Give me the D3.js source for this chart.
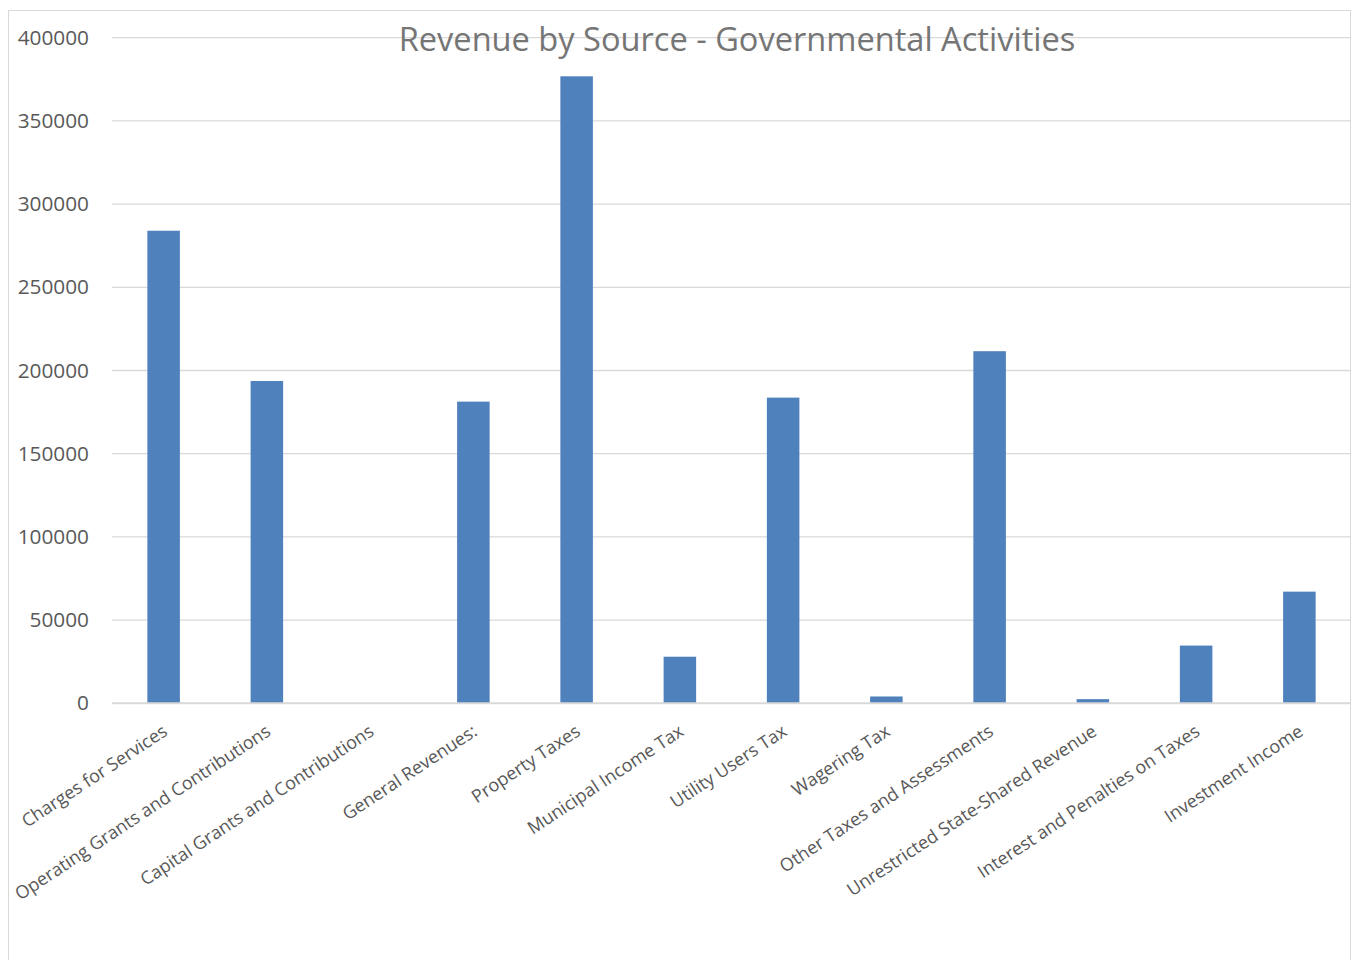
<!DOCTYPE html>
<html>
<head>
<meta charset="utf-8">
<script src="https://cdn.jsdelivr.net/npm/d3@7"></script>
<style>
  html, body { margin: 0; padding: 0; background: #fff; }
  svg { display: block; font-family: "Open Sans", "Noto Sans", sans-serif; }
</style>
</head>
<body>
<div id="chart"></div>
<script>
// Chart data
const categories = [
  "Charges for Services",
  "Operating Grants and Contributions",
  "Capital Grants and Contributions",
  "General Revenues:",
  "Property Taxes",
  "Municipal Income Tax",
  "Utility Users Tax",
  "Wagering Tax",
  "Other Taxes and Assessments",
  "Unrestricted State-Shared Revenue",
  "Interest and Penalties on Taxes",
  "Investment Income"
];
const revenue = [284000, 193700, 0, 181300, 376800, 28000, 183700, 4100, 211600, 2500, 34700, 67100];
const yTicks = [0, 50000, 100000, 150000, 200000, 250000, 300000, 350000, 400000];
const chartTitle = "Revenue by Source - Governmental Activities";

const width = 1354, height = 960;
const margin = { top: 37.7, right: 3, bottom: 256.7, left: 112 };

const svg = d3.select("#chart").append("svg")
  .attr("width", width)
  .attr("height", height);

// Chart area border
svg.append("rect")
  .attr("x", 8.5).attr("y", 10.5)
  .attr("width", 1342).attr("height", 1000)
  .attr("fill", "#fff")
  .attr("stroke", "#d9d9d9");

const x = d3.scaleBand()
  .domain(categories)
  .range([margin.left, width - margin.right])
  .paddingInner(0.685)
  .paddingOuter(0.3425);

const y = d3.scaleLinear()
  .domain([0, 400000])
  .range([height - margin.bottom, margin.top]);

// Gridlines
svg.append("g")
  .selectAll("line")
  .data(yTicks.filter(d => d > 0))
  .join("line")
  .attr("x1", margin.left)
  .attr("x2", width - margin.right)
  .attr("y1", d => y(d))
  .attr("y2", d => y(d))
  .attr("stroke", "#d9d9d9")
  .attr("stroke-width", 1.3);

// Title (gridline shows through it)
svg.append("text")
  .attr("x", 737)
  .attr("y", 51)
  .attr("text-anchor", "middle")
  .attr("fill", "#757575")
  .style("font-size", "32.6px")
  .text(chartTitle);

// Bars
svg.append("g")
  .selectAll("rect")
  .data(revenue)
  .join("rect")
  .attr("x", (d, i) => x(categories[i]))
  .attr("y", d => y(d))
  .attr("width", x.bandwidth())
  .attr("height", d => y(0) - y(d))
  .attr("fill", "#4f81bd");

// Baseline
svg.append("line")
  .attr("x1", margin.left)
  .attr("x2", width - margin.right)
  .attr("y1", y(0))
  .attr("y2", y(0))
  .attr("stroke", "#d9d9d9")
  .attr("stroke-width", 2);

// Y axis
const yAxis = svg.append("g")
  .attr("transform", `translate(${margin.left - 23},0)`)
  .call(d3.axisLeft(y).tickValues(yTicks).tickSize(0).tickPadding(0).tickFormat(d3.format("d")));
yAxis.select(".domain").remove();
yAxis.selectAll("text")
  .attr("fill", "#595959")
  .style("font-size", "20.8px")
  .style("font-family", "'Open Sans', sans-serif");

// X axis labels (rotated)
const xAxis = svg.append("g")
  .attr("transform", `translate(0,${y(0)})`)
  .call(d3.axisBottom(x).tickSize(0).tickPadding(0));
xAxis.select(".domain").remove();
xAxis.selectAll("text")
  .attr("fill", "#595959")
  .style("font-size", "18px")
  .style("font-family", "'Open Sans', sans-serif")
  .attr("text-anchor", "end")
  .attr("dy", 0)
  .attr("transform", "translate(5,31) rotate(-33.5)");
</script>
</body>
</html>
